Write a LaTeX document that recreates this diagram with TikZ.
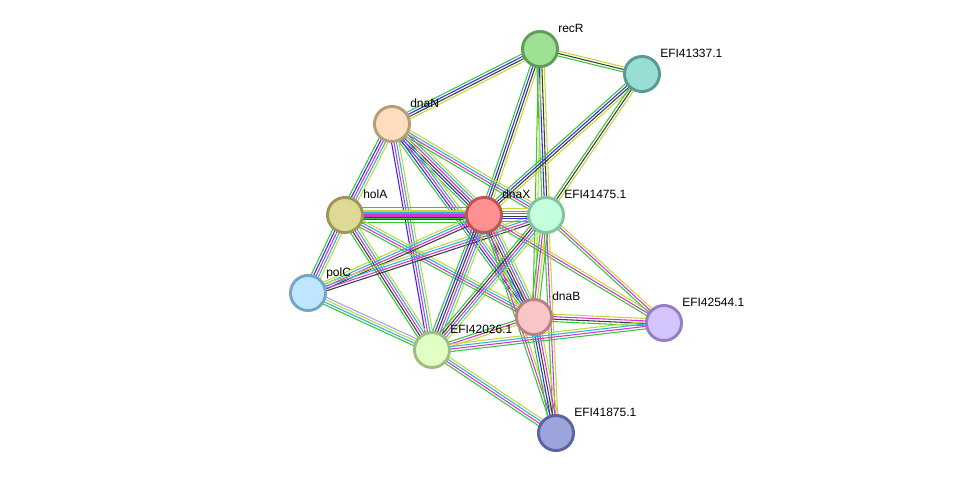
\documentclass[tikz,border=0pt]{standalone}
\usepackage{fontspec}
\setmainfont{Liberation Sans}
\usetikzlibrary{calc}
\pgfdeclarelayer{bg}
\pgfsetlayers{bg,main}
\definecolor{sg}{RGB}{55,200,55}
\definecolor{sb}{RGB}{45,45,250}
\definecolor{sk}{RGB}{60,60,60}
\definecolor{sm}{RGB}{215,50,215}
\definecolor{sc}{RGB}{40,180,220}
\definecolor{sy}{RGB}{195,215,55}
\definecolor{sl}{RGB}{160,160,255}
\definecolor{f1}{RGB}{158,224,148}\definecolor{d1}{RGB}{96,158,90}
\definecolor{f2}{RGB}{152,222,212}\definecolor{d2}{RGB}{88,155,148}
\definecolor{f3}{RGB}{255,222,192}\definecolor{d3}{RGB}{182,156,122}
\definecolor{f4}{RGB}{222,218,150}\definecolor{d4}{RGB}{155,150,90}
\definecolor{f5}{RGB}{255,145,145}\definecolor{d5}{RGB}{190,85,85}
\definecolor{f6}{RGB}{196,255,222}\definecolor{d6}{RGB}{130,195,160}
\definecolor{f7}{RGB}{190,230,255}\definecolor{d7}{RGB}{120,165,195}
\definecolor{f8}{RGB}{248,198,198}\definecolor{d8}{RGB}{185,130,130}
\definecolor{f9}{RGB}{212,196,255}\definecolor{d9}{RGB}{150,125,200}
\definecolor{f10}{RGB}{225,255,195}\definecolor{d10}{RGB}{160,190,130}
\definecolor{f11}{RGB}{155,165,220}\definecolor{d11}{RGB}{90,100,160}
\newcommand\bund[3]{%
  \gdef\bundN{0}%
  \foreach \cc in {#3}{\xdef\bundN{\the\numexpr\bundN+1\relax}}%
  \foreach \cc [count=\ii] in {#3}{%
    \pgfmathsetmacro\bundoff{(\ii-(\bundN+1)/2)*1.85}%
    \draw[edgeline,\cc] ($(#1)!\bundoff pt!90:(#2)$) -- ($(#2)!\bundoff pt!-90:(#1)$);
  }%
}
\tikzset{
  prot/.style={circle, minimum size=26.3pt, inner sep=0pt, line width=2.2pt, fill=f#1, draw=d#1},
  lab/.style={anchor=base west, font=\fontsize{9pt}{10pt}\selectfont, inner sep=0pt, text=black},
  edgeline/.style={line width=0.8pt}
}
\begin{document}
\begin{tikzpicture}[x=0.75pt,y=-0.75pt]
\useasboundingbox (0,0) rectangle (976,479);
% nodes
\node[prot=1] (recR) at (540,49) {};
\node[prot=2] (e337) at (642,74) {};
\node[prot=3] (dnaN) at (392,124) {};
\node[prot=4] (holA) at (345,215) {};
\node[prot=5] (dnaX) at (484,215) {};
\node[prot=6] (e475) at (546,215) {};
\node[prot=7] (polC) at (308,293) {};
\node[prot=8] (dnaB) at (534,317) {};
\node[prot=9] (e544) at (664,323) {};
\node[prot=10] (e026) at (432,350) {};
\node[prot=11] (e875) at (556,433) {};
% edges
\begin{pgfonlayer}{bg}
\bund{recR}{e337}{sg,sk,sy}
\bund{recR}{dnaN}{sg,sb,sk,sy}
\bund{recR}{dnaX}{sg,sb,sk,sy}
\bund{recR}{e475}{sg,sb,sk,sy}
\bund{recR}{dnaB}{sg,sy}
\bund{e337}{dnaX}{sg,sb,sk,sy}
\bund{e337}{e475}{sg,sk,sy}
\bund{dnaN}{holA}{sg,sb,sm,sc,sy}
\bund{dnaN}{dnaX}{sg,sb,sk,sm,sc,sy}
\bund{dnaN}{e475}{sg,sm,sc,sy}
\bund{dnaN}{dnaB}{sg,sb,sm,sc,sy}
\bund{dnaN}{e026}{sb,sm,sc,sy}
\bund{holA}{dnaX}{sg,sb,sk,sm,sc,sy,sg}
\bund{holA}{e475}{sg,sm,sc,sy}
\bund{holA}{polC}{sg,sb,sm,sc,sy}
\bund{holA}{e026}{sg,sk,sm,sc,sy}
\bund{holA}{dnaB}{sg,sm,sc,sy}
\bund{polC}{dnaX}{sk,sm,sc,sy}
\bund{polC}{e475}{sk,sm,sc,sy}
\bund{polC}{e026}{sg,sc,sy,sl}
\bund{dnaX}{e475}{sg,sb,sk,sm,sc,sy}
\bund{dnaX}{dnaB}{sg,sb,sk,sm,sc,sy}
\bund{dnaX}{e026}{sg,sb,sk,sm,sc,sy}
\bund{dnaX}{e544}{sg,sm,sy}
\bund{dnaX}{e875}{sg,sm,sy}
\bund{e475}{dnaB}{sg,sm,sy,sg}
\bund{e475}{e026}{sg,sk,sm,sc,sy}
\bund{e475}{e544}{sg,sm,sy}
\bund{e475}{e875}{sg,sm,sy}
\bund{dnaB}{e544}{sg,sk,sm,sy}
\bund{dnaB}{e875}{sg,sb,sk,sm,sy}
\bund{dnaB}{e026}{sg,sm,sy}
\bund{e026}{e544}{sg,sm,sc,sy}
\bund{e026}{e875}{sg,sm,sc,sy}
\end{pgfonlayer}
% labels
\node[lab] (lrecR) at (558,32) {recR};
\node[lab] (l337) at (660,57) {EFI41337.1};
\node[lab] (ldnaN) at (410,107) {dnaN};
\node[lab] (lholA) at (363,198) {holA};
\node[lab] (ldnaX) at (502,198) {dnaX};
\node[lab] (l475) at (564,198) {EFI41475.1};
\node[lab] (lpolC) at (326,276) {polC};
\node[lab] (ldnaB) at (552,300) {dnaB};
\node[lab] (l544) at (682,306) {EFI42544.1};
\node[lab] (l026) at (450,333) {EFI42026.1};
\node[lab] (l875) at (574,416) {EFI41875.1};
\end{tikzpicture}
\end{document}
